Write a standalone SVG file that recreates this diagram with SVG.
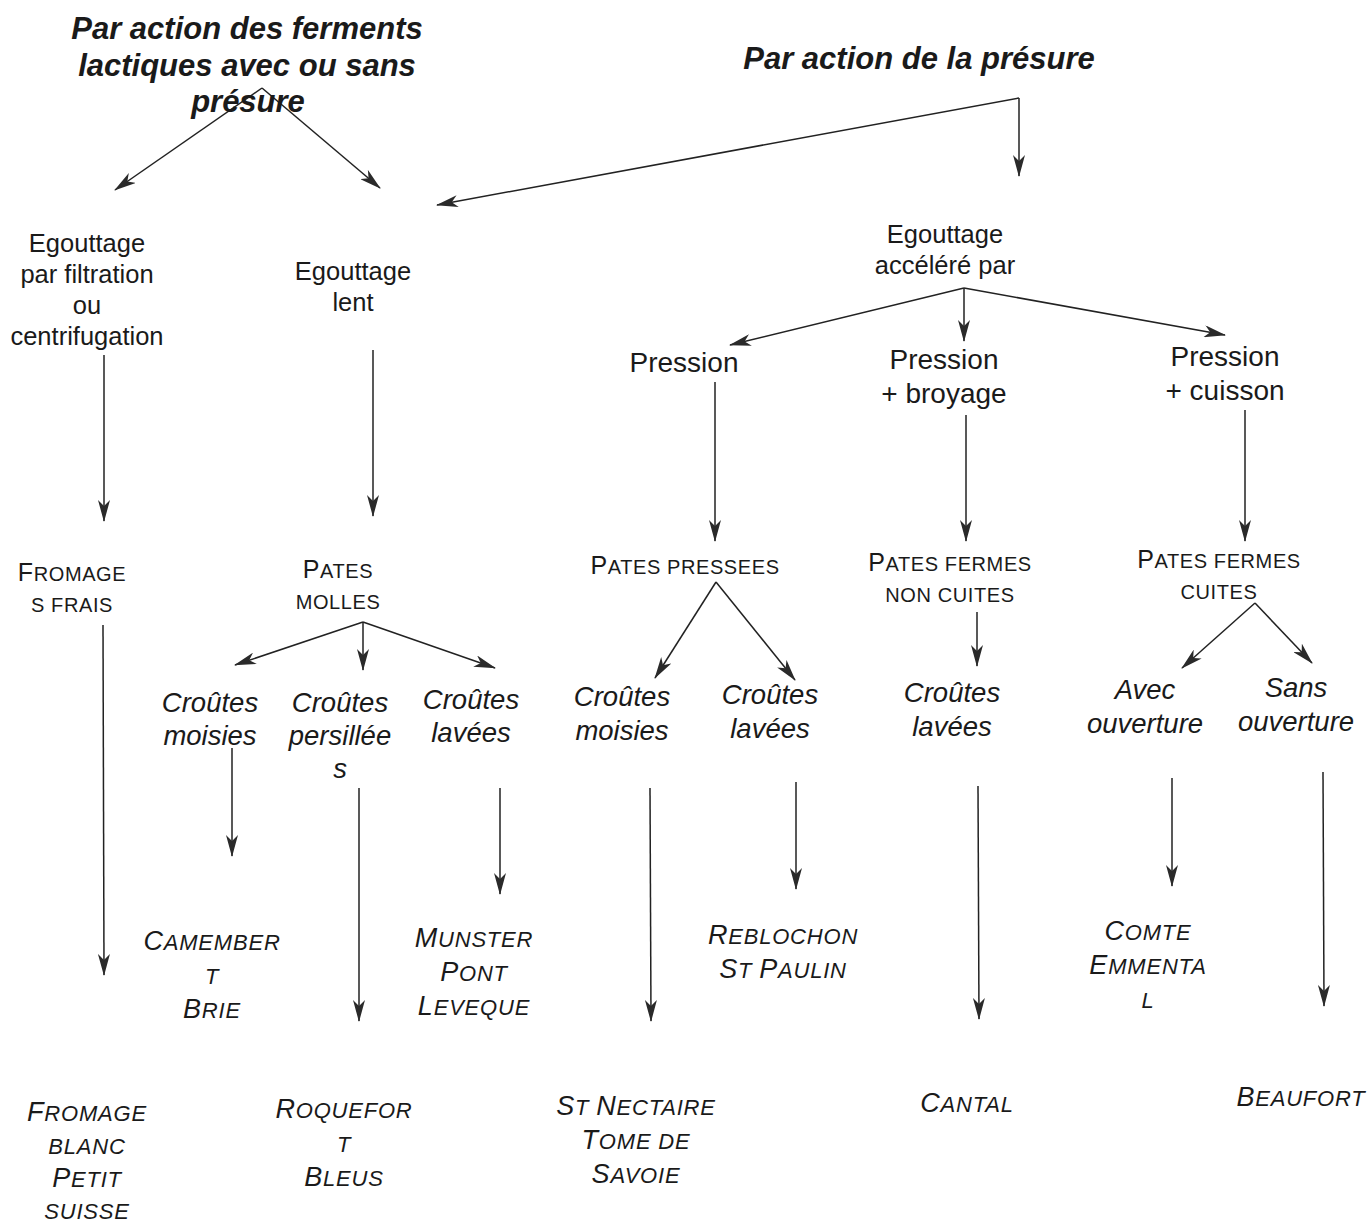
<svg xmlns="http://www.w3.org/2000/svg" width="1370" height="1225" viewBox="0 0 1370 1225">
<defs>
<marker id="ah" markerUnits="userSpaceOnUse" viewBox="0 0 22 12" refX="21" refY="6" markerWidth="22" markerHeight="12" orient="auto">
<path d="M0,0 L22,6 L0,12 L6,6 Z" fill="#2a2a2a"/>
</marker>
<style>
text{font-family:"Liberation Sans",Arial,sans-serif;fill:#1a1a1a;text-anchor:middle}
.title{font-size:31px;font-weight:bold;font-style:italic}
.n{font-size:25.5px}
.p{font-size:28px}
.it{font-size:27.5px;font-style:italic}
.sc{font-size:20px;letter-spacing:0.6px}
.sci{font-size:22px;font-style:italic;letter-spacing:0.8px}
.c{font-size:25px}
.ci{font-size:27px}
.conn line{stroke:#222;stroke-width:1.5;fill:none;marker-end:url(#ah)}
</style>
</defs>
<g class="conn">
<line x1="262" y1="88" x2="115" y2="190"/>
<line x1="262" y1="88" x2="380" y2="188"/>
<line x1="1019" y1="98" x2="437" y2="205"/>
<line x1="1019" y1="98" x2="1019" y2="176"/>
<line x1="104" y1="355" x2="104" y2="521"/>
<line x1="373" y1="350" x2="373" y2="516"/>
<line x1="964" y1="288" x2="730" y2="345"/>
<line x1="964" y1="288" x2="964" y2="341"/>
<line x1="964" y1="288" x2="1225" y2="335"/>
<line x1="715" y1="382" x2="715" y2="541"/>
<line x1="966" y1="415" x2="966" y2="541"/>
<line x1="1245" y1="410" x2="1245" y2="541"/>
<line x1="103" y1="625" x2="104" y2="975"/>
<line x1="363" y1="622" x2="235" y2="665"/>
<line x1="363" y1="622" x2="363" y2="670"/>
<line x1="363" y1="622" x2="495" y2="668"/>
<line x1="232" y1="748" x2="232" y2="856"/>
<line x1="359" y1="788" x2="359" y2="1021"/>
<line x1="500" y1="788" x2="500" y2="894"/>
<line x1="716" y1="582" x2="655" y2="678"/>
<line x1="716" y1="582" x2="795" y2="680"/>
<line x1="650" y1="788" x2="651" y2="1021"/>
<line x1="796" y1="782" x2="796" y2="889"/>
<line x1="977" y1="612" x2="977" y2="666"/>
<line x1="978" y1="786" x2="979" y2="1019"/>
<line x1="1255" y1="603" x2="1182" y2="668"/>
<line x1="1255" y1="603" x2="1312" y2="663"/>
<line x1="1172" y1="778" x2="1172" y2="886"/>
<line x1="1323" y1="772" x2="1324" y2="1006"/>
</g>
<g id="title-ferments"><text class="title" x="247" y="39">Par action des ferments</text><text class="title" x="247" y="76">lactiques avec ou sans</text><text class="title" x="248" y="112">présure</text></g>
<g id="title-presure"><text class="title" x="919" y="69">Par action de la présure</text></g>
<g id="egouttage-filtration"><text class="n" x="87" y="252">Egouttage</text><text class="n" x="87" y="283">par filtration</text><text class="n" x="87" y="314">ou</text><text class="n" x="87" y="345">centrifugation</text></g>
<g id="egouttage-lent"><text class="n" x="353" y="280">Egouttage</text><text class="n" x="353" y="311">lent</text></g>
<g id="egouttage-accelere"><text class="n" x="945" y="243">Egouttage</text><text class="n" x="945" y="274">accéléré par</text></g>
<g id="pression"><text class="p" x="684" y="372">Pression</text></g>
<g id="pression-broyage"><text class="p" x="944" y="369">Pression</text><text class="p" x="944" y="403">+ broyage</text></g>
<g id="pression-cuisson"><text class="p" x="1225" y="366">Pression</text><text class="p" x="1225" y="400">+ cuisson</text></g>
<g id="fromages-frais"><text class="sc" x="72" y="581"><tspan class="c">F</tspan>ROMAGE</text><text class="sc" x="72" y="612">S FRAIS</text></g>
<g id="pates-molles"><text class="sc" x="338" y="578"><tspan class="c">P</tspan>ATES</text><text class="sc" x="338" y="609">MOLLES</text></g>
<g id="pates-pressees"><text class="sc" x="685" y="574"><tspan class="c">P</tspan>ATES PRESSEES</text></g>
<g id="pates-fermes-non-cuites"><text class="sc" x="950" y="571"><tspan class="c">P</tspan>ATES FERMES</text><text class="sc" x="950" y="602">NON CUITES</text></g>
<g id="pates-fermes-cuites"><text class="sc" x="1219" y="568"><tspan class="c">P</tspan>ATES FERMES</text><text class="sc" x="1219" y="599">CUITES</text></g>
<g id="molles-moisies"><text class="it" x="210" y="712">Croûtes</text><text class="it" x="210" y="745">moisies</text></g>
<g id="molles-persillees"><text class="it" x="340" y="712">Croûtes</text><text class="it" x="340" y="745">persillée</text><text class="it" x="340" y="778">s</text></g>
<g id="molles-lavees"><text class="it" x="471" y="709">Croûtes</text><text class="it" x="471" y="742">lavées</text></g>
<g id="pressees-moisies"><text class="it" x="622" y="706">Croûtes</text><text class="it" x="622" y="740">moisies</text></g>
<g id="pressees-lavees"><text class="it" x="770" y="704">Croûtes</text><text class="it" x="770" y="738">lavées</text></g>
<g id="noncuites-lavees"><text class="it" x="952" y="702">Croûtes</text><text class="it" x="952" y="736">lavées</text></g>
<g id="avec-ouverture"><text class="it" x="1145" y="699">Avec</text><text class="it" x="1145" y="733">ouverture</text></g>
<g id="sans-ouverture"><text class="it" x="1296" y="697">Sans</text><text class="it" x="1296" y="731">ouverture</text></g>
<g id="camembert"><text class="sci" x="212" y="950"><tspan class="ci">C</tspan>AMEMBER</text><text class="sci" x="212" y="984">T</text><text class="sci" x="212" y="1018"><tspan class="ci">B</tspan>RIE</text></g>
<g id="munster"><text class="sci" x="474" y="947"><tspan class="ci">M</tspan>UNSTER</text><text class="sci" x="474" y="981"><tspan class="ci">P</tspan>ONT</text><text class="sci" x="474" y="1015"><tspan class="ci">L</tspan>EVEQUE</text></g>
<g id="reblochon"><text class="sci" x="783" y="944"><tspan class="ci">R</tspan>EBLOCHON</text><text class="sci" x="783" y="978"><tspan class="ci">S</tspan>T <tspan class="ci">P</tspan>AULIN</text></g>
<g id="comte"><text class="sci" x="1148" y="940"><tspan class="ci">C</tspan>OMTE</text><text class="sci" x="1148" y="974"><tspan class="ci">E</tspan>MMENTA</text><text class="sci" x="1148" y="1008">L</text></g>
<g id="fromage-blanc"><text class="sci" x="87" y="1121"><tspan class="ci">F</tspan>ROMAGE</text><text class="sci" x="87" y="1154">BLANC</text><text class="sci" x="87" y="1187"><tspan class="ci">P</tspan>ETIT</text><text class="sci" x="87" y="1219">SUISSE</text></g>
<g id="roquefort"><text class="sci" x="344" y="1118"><tspan class="ci">R</tspan>OQUEFOR</text><text class="sci" x="344" y="1152">T</text><text class="sci" x="344" y="1186"><tspan class="ci">B</tspan>LEUS</text></g>
<g id="st-nectaire"><text class="sci" x="636" y="1115"><tspan class="ci">S</tspan>T <tspan class="ci">N</tspan>ECTAIRE</text><text class="sci" x="636" y="1149"><tspan class="ci">T</tspan>OME DE</text><text class="sci" x="636" y="1183"><tspan class="ci">S</tspan>AVOIE</text></g>
<g id="cantal"><text class="sci" x="967" y="1112"><tspan class="ci">C</tspan>ANTAL</text></g>
<g id="beaufort"><text class="sci" x="1301" y="1106"><tspan class="ci">B</tspan>EAUFORT</text></g>
</svg>
